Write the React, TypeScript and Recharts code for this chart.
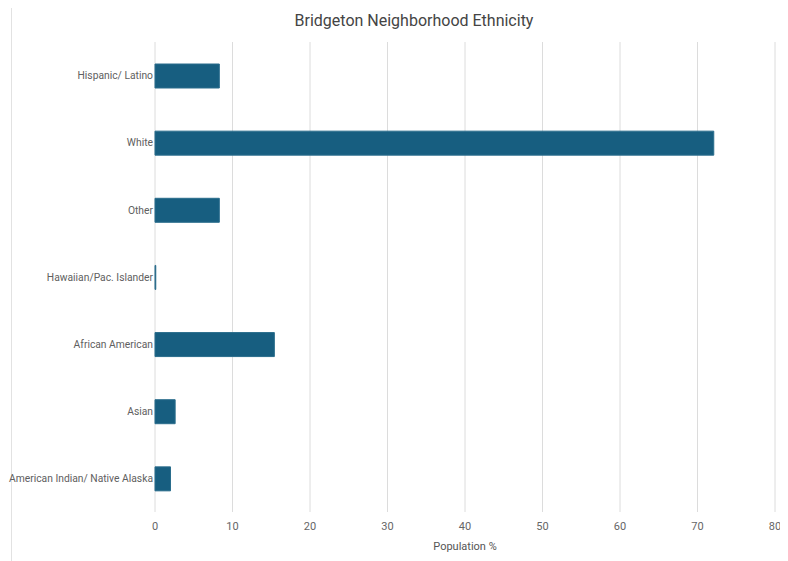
import React from "react";
import { BarChart, Bar, XAxis, YAxis, CartesianGrid } from "recharts";

const categories = [
  "Hispanic/ Latino",
  "White",
  "Other",
  "Hawaiian/Pac. Islander",
  "African American",
  "Asian",
  "American Indian/ Native Alaska",
];
const populationPct = [8.3, 72.1, 8.3, 0.1, 15.4, 2.6, 2.0];
const xTicks = [0, 10, 20, 30, 40, 50, 60, 70, 80];

const data = categories.map((c, i) => ({ name: c, value: populationPct[i] }));

const font = "Roboto, 'Noto Sans', sans-serif";

const CategoryTick = (props: any) => {
  const { x, y, payload } = props;
  return (
    <text
      x={x}
      y={y}
      dy="0.355em"
      textAnchor="end"
      fontSize={10.3}
      fill="#606060"
      fontFamily={font}
    >
      {payload.value}
    </text>
  );
};

export default function App() {
  return (
    <div style={{ position: "relative", width: 780, height: 553, fontFamily: font }}>
      <div
        style={{
          position: "absolute",
          left: 3,
          top: -3,
          width: 1,
          height: 556,
          background: "#e2e2e2",
        }}
      />
      <div
        style={{
          position: "absolute",
          left: 0,
          width: 812,
          top: 3,
          textAlign: "center",
          fontSize: 16,
          color: "#444",
        }}
      >
        Bridgeton Neighborhood Ethnicity
      </div>
      <BarChart
        width={780}
        height={553}
        data={data}
        layout="vertical"
        margin={{ top: 34, right: 13, left: 0, bottom: 0 }}
        barCategoryGap={0}
      >
        <CartesianGrid horizontal={false} stroke="#dcdcdc" strokeWidth={1} />
        <XAxis
          type="number"
          domain={[0, 80]}
          ticks={xTicks}
          axisLine={false}
          tickLine={false}
          tickSize={0}
          tickMargin={10}
          height={49}
          tick={{ fontSize: 11, fill: "#666", fontFamily: font }}
          label={{
            value: "Population %",
            position: "insideBottom",
            offset: 11,
            fontSize: 11,
            fill: "#555",
            fontFamily: font,
          }}
        />
        <YAxis
          type="category"
          dataKey="name"
          width={147}
          axisLine={false}
          tickLine={false}
          tickSize={0}
          tickMargin={2}
          interval={0}
          tick={<CategoryTick />}
        />
        <Bar
          dataKey="value"
          fill="#175e80"
          stroke="#2a6d8c"
          strokeWidth={1}
          barSize={24}
          isAnimationActive={false}
        />
      </BarChart>
    </div>
  );
}
